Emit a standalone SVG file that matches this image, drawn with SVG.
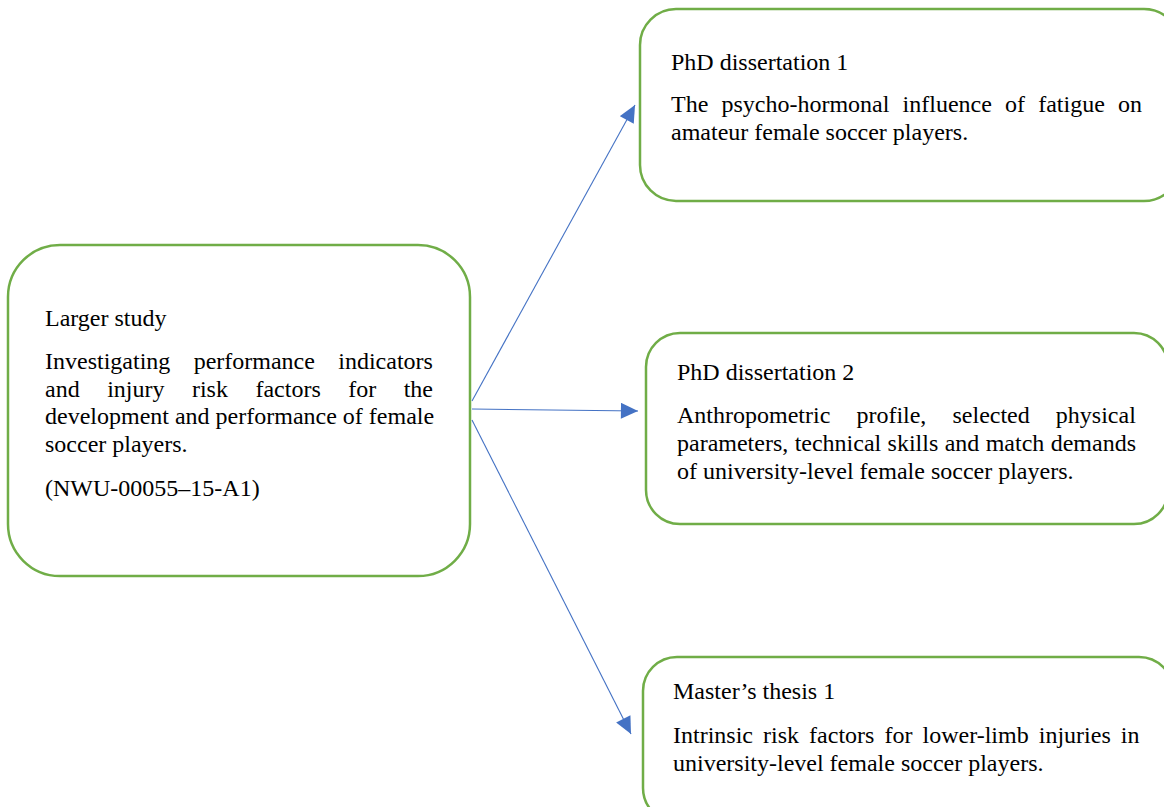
<svg xmlns="http://www.w3.org/2000/svg" width="1164" height="807" viewBox="0 0 1164 807">
  <style>
    .box { fill: #ffffff; stroke: #70AD47; stroke-width: 2.5; }
    .t { font-family: "Liberation Serif", "Times New Roman", serif; font-size: 24px; fill: #000000; }
    .conn { stroke: #4472C4; stroke-width: 1.1; fill: none; marker-end: url(#arrow); }
  </style>
  <defs>
    <marker id="arrow" markerUnits="userSpaceOnUse" markerWidth="18" markerHeight="16" viewBox="0 0 16 15" refX="16" refY="7.5" orient="auto">
      <path d="M0,0 L16,7.5 L0,15 Z" fill="#4472C4"/>
    </marker>
  </defs>
  <rect width="1164" height="807" fill="#ffffff"/>

  <g id="connectors">
    <line class="conn" x1="472" y1="401" x2="635" y2="105"/>
    <line class="conn" x1="472" y1="409" x2="638" y2="411"/>
    <line class="conn" x1="472" y1="420" x2="631" y2="734"/>
  </g>

  <g id="larger-study">
    <rect class="box" x="8" y="245" width="462" height="331" rx="52" ry="52"/>
    <text class="t" x="45" y="326">Larger study</text>
    <text class="t" x="45" y="369" word-spacing="17.35">Investigating performance indicators</text>
    <text class="t" x="45" y="396.5" word-spacing="21.48">and injury risk factors for the</text>
    <text class="t" x="45" y="424">development and performance of female</text>
    <text class="t" x="45" y="452">soccer players.</text>
    <text class="t" x="45" y="496">(NWU-00055–15-A1)</text>
  </g>

  <g id="phd-1">
    <rect class="box" x="640" y="9" width="540" height="192" rx="36" ry="36"/>
    <text class="t" x="671" y="70">PhD dissertation 1</text>
    <text class="t" x="671" y="112" word-spacing="7.16">The psycho-hormonal influence of fatigue on</text>
    <text class="t" x="671" y="139.5">amateur female soccer players.</text>
  </g>

  <g id="phd-2">
    <rect class="box" x="646" y="333" width="522" height="191" rx="34" ry="34"/>
    <text class="t" x="677" y="380">PhD dissertation 2</text>
    <text class="t" x="677" y="423.3" word-spacing="20.1">Anthropometric profile, selected physical</text>
    <text class="t" x="677" y="450.9" word-spacing="0.36">parameters, technical skills and match demands</text>
    <text class="t" x="677" y="478.5">of university-level female soccer players.</text>
  </g>

  <g id="masters-1">
    <rect class="box" x="643" y="657" width="530" height="165" rx="34" ry="34"/>
    <text class="t" x="673" y="699">Master’s thesis 1</text>
    <text class="t" x="673" y="743" word-spacing="4.07">Intrinsic risk factors for lower-limb injuries in</text>
    <text class="t" x="673" y="770.5">university-level female soccer players.</text>
  </g>
</svg>
